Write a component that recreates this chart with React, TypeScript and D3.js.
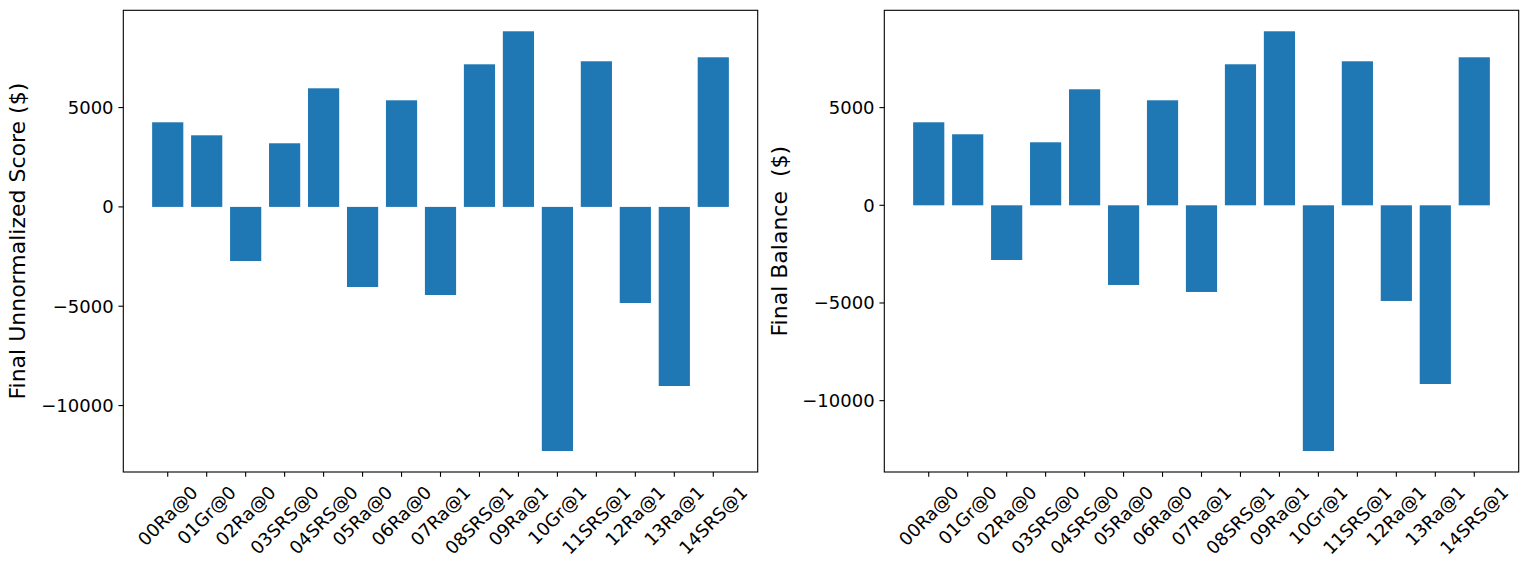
import React from "react";
import * as d3 from "d3";

// Agent runs, in plotting order
const categories = [
  "00Ra@0", "01Gr@0", "02Ra@0", "03SRS@0", "04SRS@0", "05Ra@0", "06Ra@0",
  "07Ra@1", "08SRS@1", "09Ra@1", "10Gr@1", "11SRS@1", "12Ra@1", "13Ra@1", "14SRS@1",
];

// Final unnormalized score per run ($)
const unnormalizedScore = [
  4259, 3604, -2723, 3202, 5970, -4032, 5366,
  -4435, 7178, 8840, -12288, 7330, -4838, -9016, 7531,
];

// Final balance per run ($)
const finalBalance = [
  4249, 3635, -2800, 3225, 5938, -4078, 5375,
  -4436, 7218, 8907, -12577, 7371, -4897, -9146, 7576,
];

const yLabels = ["Final Unnormalized Score ($)", "Final Balance  ($)"];

const W = 1528;
const H = 572;
const TOP = 10.3;
const BOTTOM = 472;
const PANELS = [
  { left: 123.3, right: 757.7, labelX: 17.5 },
  { left: 884.3, right: 1518.7, labelX: 779.5 },
];
const BAR_COLOR = "#1f77b4";
const FONT = "'DejaVu Sans', 'Liberation Sans', sans-serif";
const TICK_FS = 18;
const LABEL_FS = 22;
const TICK_LEN = 4.86;
const TICK_PAD = 4.86;
const BAR_W = 0.8;

let measureCtx: CanvasRenderingContext2D | null = null;
function textWidth(s: string, size: number): number {
  if (!measureCtx) {
    const c = document.createElement("canvas");
    measureCtx = c.getContext("2d");
  }
  if (!measureCtx) return s.length * size * 0.62;
  measureCtx.font = `${size}px 'DejaVu Sans'`;
  return measureCtx.measureText(s).width;
}

function Panel({ values, idx }: { values: number[]; idx: number }) {
  const p = PANELS[idx];
  const n = categories.length;
  // x limits: bar extents plus 5% margins
  const x0 = -BAR_W / 2;
  const x1 = n - 1 + BAR_W / 2;
  const xm = (x1 - x0) * 0.05;
  const x = d3.scaleLinear().domain([x0 - xm, x1 + xm]).range([p.left, p.right]);

  const lo = Math.min(0, d3.min(values) as number);
  const hi = Math.max(0, d3.max(values) as number);
  const ym = (hi - lo) * 0.05;
  const y = d3.scaleLinear().domain([lo - ym, hi + ym]).range([BOTTOM, TOP]);
  const yTicks = y.ticks(5);
  const fmt = d3.format("d");

  const lineH = 1.164 * TICK_FS;
  const xTickTop = BOTTOM + TICK_LEN + TICK_PAD;

  return (
    <g>
      {values.map((v, i) => (
        <rect
          key={i}
          x={x(i - BAR_W / 2)}
          width={x(i + BAR_W / 2) - x(i - BAR_W / 2)}
          y={y(Math.max(0, v))}
          height={Math.abs(y(v) - y(0))}
          fill={BAR_COLOR}
        />
      ))}
      {/* spines */}
      <rect
        x={p.left}
        y={TOP}
        width={p.right - p.left}
        height={BOTTOM - TOP}
        fill="none"
        stroke="#000"
        strokeWidth={1.1}
      />
      {/* y axis */}
      {yTicks.map((t) => (
        <g key={t}>
          <line x1={p.left - TICK_LEN} x2={p.left} y1={y(t)} y2={y(t)} stroke="#000" strokeWidth={1.1} />
          <text
            x={p.left - TICK_LEN - TICK_PAD}
            y={y(t)}
            textAnchor="end"
            dominantBaseline="central"
            fontSize={TICK_FS}
            fontFamily={FONT}
            fill="#000"
          >
            {fmt(t).replace("-", "\u2212")}
          </text>
        </g>
      ))}
      {/* x axis */}
      {categories.map((c, i) => {
        const cx = x(i);
        const w = textWidth(c, TICK_FS);
        const d = (w + lineH) / Math.SQRT2;
        const cy = xTickTop + d / 2;
        return (
          <g key={c}>
            <line x1={cx} x2={cx} y1={BOTTOM} y2={BOTTOM + TICK_LEN} stroke="#000" strokeWidth={1.1} />
            <text
              x={cx}
              y={cy + 0.346 * TICK_FS}
              textAnchor="middle"
              fontSize={TICK_FS}
              fontFamily={FONT}
              fill="#000"
              transform={`rotate(-45, ${cx}, ${cy})`}
            >
              {c}
            </text>
          </g>
        );
      })}
      <text
        x={p.labelX}
        y={(TOP + BOTTOM) / 2}
        textAnchor="middle"
        dominantBaseline="central"
        fontSize={LABEL_FS}
        fontFamily={FONT}
        fill="#000"
        transform={`rotate(-90, ${p.labelX}, ${(TOP + BOTTOM) / 2})`}
        style={{ whiteSpace: "pre" }}
      >
        {yLabels[idx]}
      </text>
    </g>
  );
}

export default function App() {
  return (
    <svg
      width={W}
      height={H}
      viewBox={`0 0 ${W} ${H}`}
      style={{ position: "absolute", left: 0, top: 0, background: "#fff" }}
    >
      <rect width={W} height={H} fill="#fff" />
      <Panel values={unnormalizedScore} idx={0} />
      <Panel values={finalBalance} idx={1} />
    </svg>
  );
}
